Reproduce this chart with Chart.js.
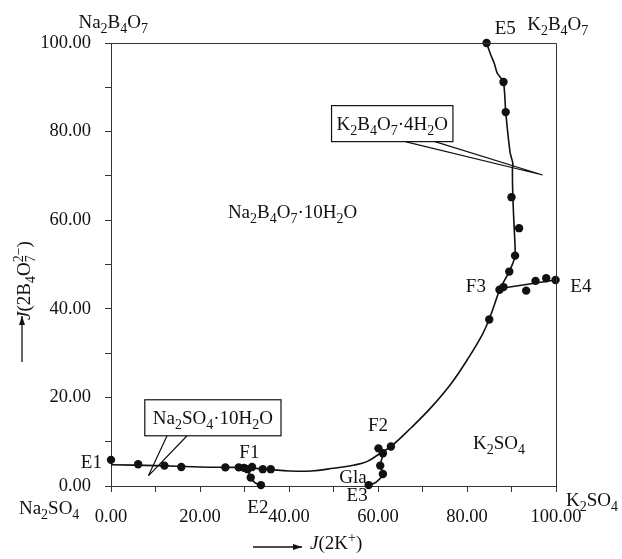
<!DOCTYPE html>
<html>
<head>
<meta charset="utf-8">
<script src="https://cdn.jsdelivr.net/npm/chart.js@4.4.1/dist/chart.umd.min.js"></script>
<style>
  html, body { margin: 0; padding: 0; background: #fff; }
</style>
</head>
<body>
<canvas id="phase" width="622" height="559"></canvas>
<script>
// Phase diagram Na+, K+ // SO4 2-, B4O7 2- - H2O, Jänecke indices.
// x = J(2K+), y = J(2B4O7 2-)

// measured invariant / univariant points
const measuredX = [0, 6.1, 12.0, 15.8, 25.7, 28.7, 29.9, 30.7, 31.7, 34.1, 35.9, 31.4, 33.7,
                   60.1, 61.1, 62.9, 60.5, 61.1, 57.9,
                   85.0, 87.3, 88.2, 93.3, 95.4, 97.8, 99.9, 89.5, 90.8, 91.7, 90.0, 88.7, 88.2, 84.4];
const measuredY = [5.9, 4.9, 4.6, 4.3, 4.2, 4.2, 4.1, 3.8, 4.3, 3.8, 3.8, 1.9, 0.2,
                   8.5, 7.4, 8.9, 4.6, 2.7, 0.2,
                   37.6, 44.3, 44.9, 44.1, 46.3, 46.9, 46.5, 48.4, 52.0, 58.2, 65.2, 84.4, 91.2, 100];

// univariant curves
const curveE1F3X = [0, 10, 20, 28, 31, 36, 40, 45, 50, 54.5, 57.5, 60.5, 63, 67.5, 72, 76.5, 80.5, 83.5, 85, 87.4];
const curveE1F3Y = [4.8, 4.6, 4.3, 4.2, 4.1, 3.7, 3.4, 3.4, 4.0, 4.7, 5.5, 7.4, 9.0, 13.2, 17.8, 23.2, 29.2, 34.3, 37.7, 44.6];
const curveF1E2X = [31.0, 31.0, 31.4, 32.4, 33.7];
const curveF1E2Y = [4.1, 2.8, 1.9, 0.7, 0.2];
const curveF2E3X = [60.1, 61.1, 60.5, 61.1, 59.6, 57.9];
const curveF2E3Y = [8.5, 7.4, 4.6, 2.7, 0.9, 0.2];
const curveF3E5X = [87.4, 89.5, 90.8, 90.6, 90.3, 90.2, 90.3, 89.7, 88.7, 88.2, 86.8, 86.1, 85.3, 84.4];
const curveF3E5Y = [44.6, 48.4, 52.0, 58.2, 65.2, 71.4, 72.9, 75.2, 84.4, 91.2, 93.2, 95.5, 97.4, 100];
const curveF3E4X = [87.4, 99.9];
const curveF3E4Y = [44.6, 46.5];

// axis ticks
const axisMin = 0;
const axisMax = 100;
const tickStep = 10;
const labelStep = 20;

const FONT = "Liberation Serif";
const INK = "#111";

const pairs = (xs, ys) => xs.map((x, i) => ({ x: x, y: ys[i] }));

const curve = (xs, ys, tension) => ({
    data: pairs(xs, ys),
    showLine: true,
    borderColor: INK,
    borderWidth: 1.6,
    pointRadius: 0,
    tension: tension,
    clip: false,
});

// Draws text made of runs: normal, subscript ("b"), superscript ("p"),
// superscript stacked over previous run ("p0"), italic ("i").
function richText(ctx, runs, x, y, size, align) {
    const small = Math.round(size * 0.72);
    const fontOf = (k) => (k === "i" ? "italic " : "") +
        (k === "b" || k === "p" || k === "p0" ? small : size) + "px '" + FONT + "'";
    let total = 0, prevW = 0;
    const widths = runs.map(([t, k]) => {
        ctx.font = fontOf(k);
        const w = ctx.measureText(t).width;
        const adv = k === "p0" ? Math.max(0, w - prevW) : w;
        total += adv;
        prevW = w;
        return w;
    });
    let cx = align === "left" ? x : align === "right" ? x - total : x - total / 2;
    const base = y + size * 0.33;
    let prevStart = cx; prevW = 0;
    ctx.textAlign = "left";
    ctx.textBaseline = "alphabetic";
    ctx.fillStyle = INK;
    runs.forEach(([t, k], i) => {
        ctx.font = fontOf(k);
        const w = widths[i];
        let dy = 0, sx = cx, adv = w;
        if (k === "b") dy = size * 0.25;
        if (k === "p" || k === "p0") dy = -size * 0.38;
        if (k === "p0") { sx = prevStart; adv = Math.max(0, w - prevW); }
        ctx.fillText(t, sx, base + dy);
        if (k !== "p0") { prevStart = cx; prevW = w; }
        cx += adv;
    });
    return total;
}

const NA2B4O7 = [["Na", ""], ["2", "b"], ["B", ""], ["4", "b"], ["O", ""], ["7", "b"]];
const K2B4O7 = [["K", ""], ["2", "b"], ["B", ""], ["4", "b"], ["O", ""], ["7", "b"]];
const NA2SO4 = [["Na", ""], ["2", "b"], ["SO", ""], ["4", "b"]];
const K2SO4 = [["K", ""], ["2", "b"], ["SO", ""], ["4", "b"]];

const annotations = {
    id: "annotations",
    afterDraw(chart) {
        const { ctx, chartArea: a, scales } = chart;
        const px = (x) => scales.x.getPixelForValue(x);
        const py = (y) => scales.y.getPixelForValue(y);
        ctx.save();

        // frame top and right
        ctx.strokeStyle = "#333";
        ctx.lineWidth = 1;
        ctx.beginPath();
        ctx.moveTo(a.left - 6, a.top + 0.5);
        ctx.lineTo(a.right + 0.5, a.top + 0.5);
        ctx.lineTo(a.right + 0.5, a.bottom);
        ctx.stroke();

        const S = 19;
        const lab = (runs, x, y, align) => richText(ctx, runs, px(x), py(y), S, align || "center");

        // corner compounds and point names
        lab(NA2B4O7, 0.5, 104.8);
        lab([["E5", ""]], 88.6, 103.4);
        lab(K2B4O7, 100.4, 104.4);
        lab([["F3", ""]], 82.0, 45.3);
        lab([["E4", ""]], 105.6, 45.3);
        lab([["F2", ""]], 60.0, 13.8);
        lab(K2SO4, 87.2, 9.7);
        lab([["Gla", ""]], 54.4, 2.0);
        lab([["E3", ""]], 55.3, -2.0);
        lab(K2SO4, 108.1, -3.2);
        lab([["E1", ""]], -4.4, 5.4);
        lab([["F1", ""]], 31.1, 7.7);
        lab([["E2", ""]], 33.0, -4.7);
        lab(NA2SO4, -13.9, -5.0);
        lab(NA2B4O7.concat([["·10H", ""], ["2", "b"], ["O", ""]]), 40.8, 61.9);

        // callout boxes
        const callout = (runs, cx, cy, tip, feet, padX) => {
            const w = richText(ctx, runs, -1000, -1000, S, "left");
            const x0 = px(cx) - w / 2 - padX, y0 = py(cy) - 18;
            const bw = w + 2 * padX, bh = 36;
            ctx.strokeStyle = INK;
            ctx.lineWidth = 1.2;
            ctx.beginPath();
            feet.forEach((f) => {
                ctx.moveTo(px(f), y0 + bh);
                ctx.lineTo(px(tip[0]), py(tip[1]));
            });
            ctx.stroke();
            ctx.fillStyle = "#fff";
            ctx.fillRect(x0, y0, bw, bh);
            ctx.strokeRect(x0, y0, bw, bh);
            richText(ctx, runs, px(cx), py(cy), S, "center");
        };
        callout(K2B4O7.concat([["·4H", ""], ["2", "b"], ["O", ""]]), 63.2, 81.8, [97.0, 70.2], [66.1, 72.8], 5);
        callout(NA2SO4.concat([["·10H", ""], ["2", "b"], ["O", ""]]), 22.9, 15.4, [8.4, 2.3], [12.6, 17.1], 8);

        // axis titles with arrows
        ctx.strokeStyle = INK;
        ctx.fillStyle = INK;
        ctx.lineWidth = 1.3;
        const arrow = (x1, y1, x2, y2) => {
            ctx.beginPath();
            ctx.moveTo(x1, y1); ctx.lineTo(x2, y2); ctx.stroke();
            const ang = Math.atan2(y2 - y1, x2 - x1);
            ctx.beginPath();
            ctx.moveTo(x2, y2);
            ctx.lineTo(x2 - 9 * Math.cos(ang) + 3 * Math.sin(ang), y2 - 9 * Math.sin(ang) - 3 * Math.cos(ang));
            ctx.lineTo(x2 - 9 * Math.cos(ang) - 3 * Math.sin(ang), y2 - 9 * Math.sin(ang) + 3 * Math.cos(ang));
            ctx.closePath(); ctx.fill();
        };
        arrow(253, 547, 302, 547);
        richText(ctx, [["J", "i"], ["(2K", ""], ["+", "p"], [")", ""]], 310, 543, S, "left");

        arrow(22, 362, 22, 316);
        ctx.translate(24, 320);
        ctx.rotate(-Math.PI / 2);
        richText(ctx, [["J", "i"], ["(2B", ""], ["4", "b"], ["O", ""], ["7", "b"], ["2", "p0"], ["−", "p"], [")", ""]], 0, 0, S, "left");
        ctx.restore();
    },
};

const tickFont = { family: FONT, size: 18.5 };
const axisOpts = (extra) => Object.assign({
    type: "linear",
    min: axisMin,
    max: axisMax,
    ticks: {
        stepSize: tickStep,
        color: INK,
        font: tickFont,
        padding: 14,
        maxRotation: 0,
        minRotation: 0,
        autoSkip: false,
        callback: (v) => (v % labelStep === 0 ? v.toFixed(2) : ""),
    },
    grid: { drawOnChartArea: false, drawTicks: true, tickLength: 6, tickColor: "#333" },
    border: { color: "#333", width: 1 },
}, extra);

new Chart(document.getElementById("phase"), {
    type: "scatter",
    data: {
        datasets: [
            {
                data: pairs(measuredX, measuredY),
                pointRadius: 4.2,
                pointBackgroundColor: INK,
                pointBorderWidth: 0,
                showLine: false,
                clip: false,
            },
            curve(curveE1F3X, curveE1F3Y, 0.4),
            curve(curveF1E2X, curveF1E2Y, 0.4),
            curve(curveF2E3X, curveF2E3Y, 0.4),
            curve(curveF3E5X, curveF3E5Y, 0.2),
            curve(curveF3E4X, curveF3E4Y, 0),
        ],
    },
    options: {
        responsive: false,
        animation: false,
        devicePixelRatio: 1,
        layout: { padding: { top: 43, right: 66, bottom: 0, left: 0 } },
        plugins: { legend: { display: false }, tooltip: { enabled: false } },
        scales: {
            x: axisOpts({ afterFit: (s) => { s.height = 73; } }),
            y: axisOpts({ afterFit: (s) => { s.width = 111; } }),
        },
    },
    plugins: [annotations],
});
</script>
</body>
</html>
